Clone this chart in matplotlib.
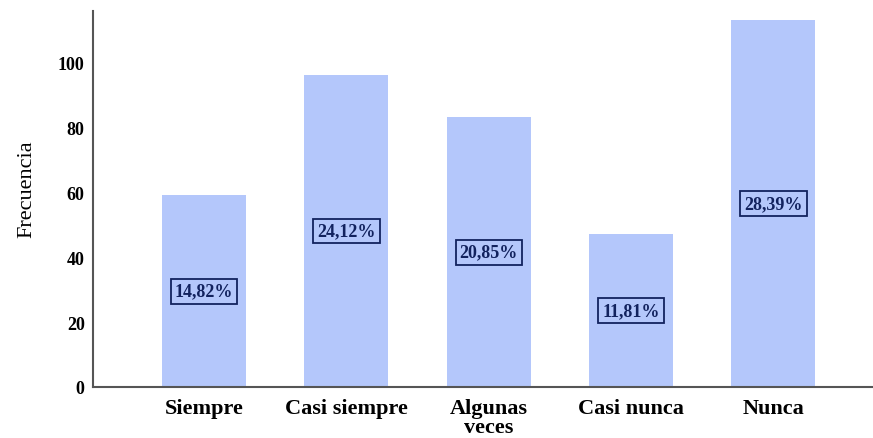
import matplotlib
matplotlib.use("Agg")
from matplotlib import pyplot as plt

categories = ["Siempre", "Casi siempre", "Algunas\nveces", "Casi nunca", "Nunca"]
counts = [59, 96, 83, 47, 113]
percents = ["14,82%", "24,12%", "20,85%", "11,81%", "28,39%"]

BAR_COLOR = "#b4c7fb"
TEXT_NAVY = "#12225e"

plt.rcParams["font.family"] = ["Liberation Serif", "DejaVu Serif"]
plt.rcParams["font.weight"] = "bold"

fig = plt.figure(figsize=(8.73, 4.39), dpi=100)
ax = fig.add_axes([93 / 873, 51 / 439, 780 / 873, 376 / 439])

x = list(range(len(categories)))
bars = ax.bar(x, counts, width=0.59, color=BAR_COLOR, edgecolor="none")

for rect, label in zip(bars, percents):
    ax.text(
        rect.get_x() + rect.get_width() / 2,
        rect.get_height() / 2,
        label,
        ha="center",
        va="center",
        fontsize=13,
        fontweight="bold",
        color=TEXT_NAVY,
        bbox=dict(boxstyle="square,pad=0.22", facecolor="none",
                  edgecolor=TEXT_NAVY, linewidth=1.3),
    )

ax.set_xlim(-0.78, 4.70)
ax.set_ylim(0, 115.7)
ax.set_yticks([0, 20, 40, 60, 80, 100])
ax.set_xticks(x)
ax.set_xticklabels(categories, fontsize=16, fontweight="bold", linespacing=0.9)
ax.tick_params(axis="y", length=0, pad=6, labelsize=13)
ax.tick_params(axis="x", length=0, pad=8)

for side in ["top", "right"]:
    ax.spines[side].set_visible(False)
for side in ["left", "bottom"]:
    ax.spines[side].set_color("#555555")
    ax.spines[side].set_linewidth(1.5)

ax.set_ylabel("Frecuencia", fontsize=16, fontweight="normal")
ax.yaxis.set_label_coords(-0.073, 0.53)

plt.savefig("out.png", dpi=100)
